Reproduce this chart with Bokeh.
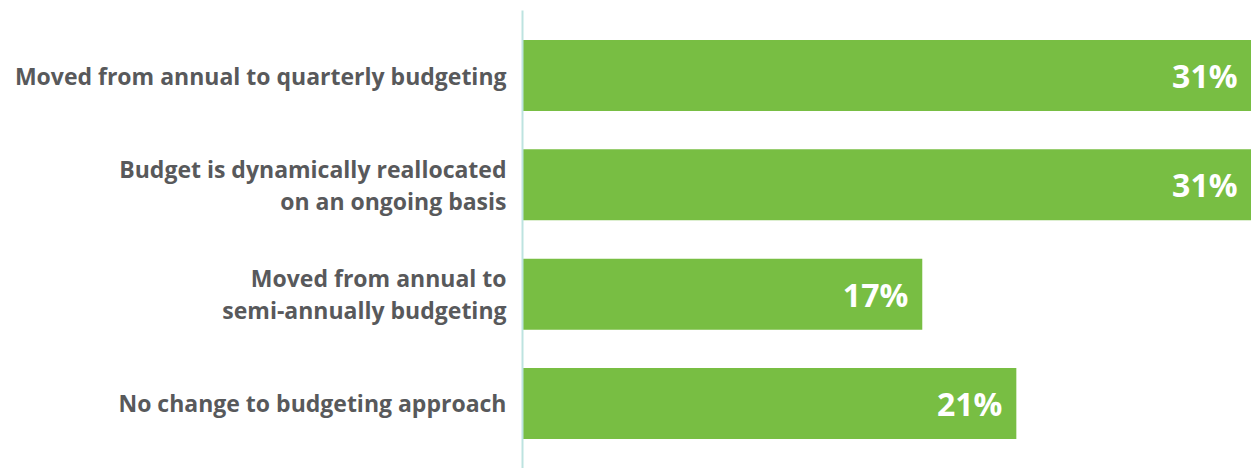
from bokeh.plotting import figure
from bokeh.models import ColumnDataSource, FactorRange
from bokeh.core.properties import value
from bokeh.embed import file_html
from bokeh.resources import INLINE

categories = [
    "Moved from annual to quarterly budgeting",
    "Budget is dynamically reallocated\non an ongoing basis",
    "Moved from annual to\nsemi-annually budgeting",
    "No change to budgeting approach",
]
values = [31, 31, 17, 21]
labels = ["31%", "31%", "17%", "21%"]

GREEN = "#78BE43"
GREY = "#58595B"

src = ColumnDataSource(dict(cat=categories, val=values, lab=labels))

p = figure(
    width=1251, height=468,
    y_range=FactorRange(factors=categories[::-1], range_padding=0.0475),
    x_range=(0, 31),
    output_backend="svg", toolbar_location=None,
    min_border_left=522, min_border_right=0, min_border_top=10, min_border_bottom=0,
)
p.hbar(y="cat", right="val", left=0, height=0.65, source=src, color=GREEN, line_color=None)
p.text(x="val", y="cat", text="lab", source=src, x_offset=-14,
       text_align="right", text_baseline="middle", text_color="white",
       text_font=value("Open Sans"), text_font_style="bold", text_font_size="32px")

p.xaxis.visible = False
p.xgrid.visible = False
p.ygrid.visible = False
p.outline_line_color = None
yaxis = p.yaxis[0]
yaxis.axis_line_color = "#BDE3E0"
yaxis.axis_line_width = 2
yaxis.major_tick_line_color = None
yaxis.minor_tick_line_color = None
yaxis.major_tick_out = 0
yaxis.major_label_standoff = 16
yaxis.major_label_text_font = "Open Sans"
yaxis.major_label_text_font_style = "bold"
yaxis.major_label_text_font_size = "23px"
yaxis.major_label_text_color = GREY
yaxis.major_label_text_line_height = 1.0

open("out.html", "w").write(file_html(p, INLINE))
